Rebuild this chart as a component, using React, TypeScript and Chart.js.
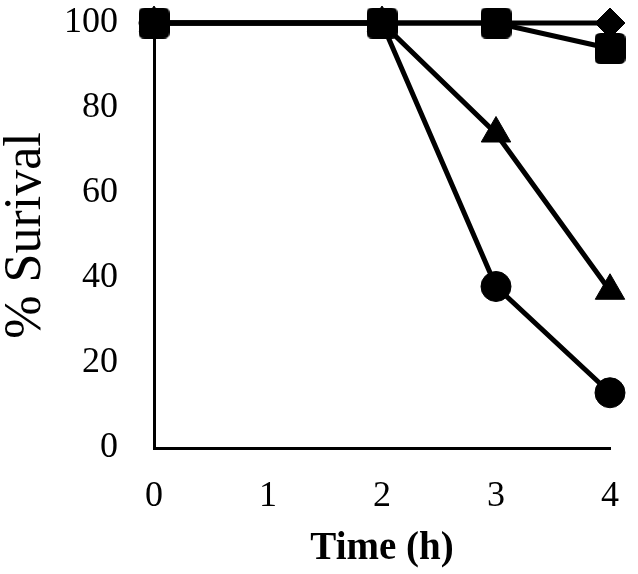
import React, { useEffect, useRef } from "react";
import { Chart, registerables } from "chart.js";

Chart.register(...registerables);

const timeHours = [0, 2, 3, 4];
const squareSeries = [100, 100, 100, 94];
const diamondSeries = [100, 100, 100, 100];
const triangleSeries = [100, 100, 74, 37];
const circleSeries = [100, 100, 38, 13];
const xTicks = [0, 1, 2, 3, 4];
const yTicks = [0, 20, 40, 60, 80, 100];

const FONT = "'Liberation Serif', 'Times New Roman', serif";

function roundedSquare(size: number, r: number) {
  const c = document.createElement("canvas");
  c.width = size;
  c.height = size;
  const ctx = c.getContext("2d")!;
  ctx.fillStyle = "#000";
  ctx.beginPath();
  ctx.moveTo(r, 0);
  ctx.lineTo(size - r, 0);
  ctx.quadraticCurveTo(size, 0, size, r);
  ctx.lineTo(size, size - r);
  ctx.quadraticCurveTo(size, size, size - r, size);
  ctx.lineTo(r, size);
  ctx.quadraticCurveTo(0, size, 0, size - r);
  ctx.lineTo(0, r);
  ctx.quadraticCurveTo(0, 0, r, 0);
  ctx.closePath();
  ctx.fill();
  return c;
}

const pts = (ys: number[]) => timeHours.map((x, i) => ({ x, y: ys[i] }));

export default function App() {
  const ref = useRef<HTMLCanvasElement>(null);
  useEffect(() => {
    const sq = roundedSquare(31, 6);
    const common = {
      borderColor: "#000",
      backgroundColor: "#000",
      borderWidth: 5,
      pointBackgroundColor: "#000",
      pointBorderColor: "#000",
      pointBorderWidth: 1,
      clip: false as const,
      tension: 0,
    };
    const chart = new Chart(ref.current!, {
      type: "line",
      data: {
        datasets: [
          { ...common, label: "square", data: pts(squareSeries), pointStyle: sq as any, pointRadius: 15 },
          { ...common, label: "diamond", data: pts(diamondSeries), pointStyle: "rectRot", pointRadius: 15 },
          { ...common, label: "triangle", data: pts(triangleSeries), pointStyle: "triangle", pointRadius: 17 },
          { ...common, label: "circle", data: pts(circleSeries), pointStyle: "circle", pointRadius: 15 },
        ],
      },
      options: {
        responsive: false,
        animation: false,
        events: [],
        layout: { padding: { left: 0, right: 28, top: 23, bottom: 0 } },
        plugins: { legend: { display: false }, tooltip: { enabled: false } },
        scales: {
          x: {
            type: "linear",
            min: 0,
            max: 4,
            afterBuildTicks: (s: any) => {
              s.ticks = xTicks.map((v) => ({ value: v }));
            },
            afterFit: (s: any) => {
              s.height = 126;
              s.paddingLeft = 0;
              s.paddingRight = 0;
            },
            grid: { display: false, drawTicks: false },
            border: { display: true, color: "#000", width: 3 },
            ticks: { color: "#000", padding: 27, font: { family: FONT, size: 36 } },
            title: {
              display: true,
              text: "Time (h)",
              color: "#000",
              font: { family: FONT, size: 39, weight: "bold", lineHeight: 1 },
              padding: { top: 0, bottom: 6 },
            },
          },
          y: {
            type: "linear",
            min: 0,
            max: 100,
            afterBuildTicks: (s: any) => {
              s.ticks = yTicks.map((v) => ({ value: v }));
            },
            afterFit: (s: any) => {
              s.width = 154;
              s.paddingTop = 0;
              s.paddingBottom = 0;
            },
            grid: { display: false, drawTicks: false },
            border: { display: true, color: "#000", width: 3 },
            ticks: { color: "#000", padding: 36, font: { family: FONT, size: 36 } },
            title: {
              display: true,
              text: "% Surival",
              color: "#000",
              font: { family: FONT, size: 52, lineHeight: 1 },
              padding: { top: 0, bottom: 0 },
            },
          },
        },
      },
    });
    return () => chart.destroy();
  }, []);
  return (
    <div style={{ position: "fixed", left: 0, top: 0, width: 638, height: 574, background: "#fff" }}>
      <canvas ref={ref} width={638} height={574} />
    </div>
  );
}
